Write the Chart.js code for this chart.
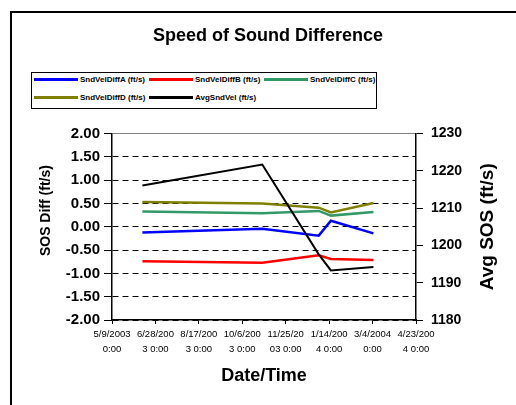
<!DOCTYPE html>
<html>
<head>
<meta charset="utf-8">
<title>Speed of Sound Difference</title>
<script src="https://cdn.jsdelivr.net/npm/chart.js@4.4.0/dist/chart.umd.min.js"></script>
<style>
  html, body { margin: 0; padding: 0; background: #fff; }
  #wrap { position: relative; width: 516px; height: 405px; }
  #legend {
    position: absolute; left: 31px; top: 72px; width: 344px; height: 35px;
    border: 1px solid #000; background: #fff;
    font: bold 8px 'Liberation Sans', Arial, sans-serif; color: #000;
  }
  #legend .item { position: absolute; height: 10px; display: flex; align-items: center; white-space: nowrap; }
  #legend .swatch { width: 44px; height: 3px; margin-right: 2px; }
</style>
</head>
<body>
<div id="wrap">
  <canvas id="chart" width="516" height="405"></canvas>
  <div id="legend"></div>
</div>
<script>
const FONT = "'Liberation Sans', Arial, sans-serif";

// sample times
const sampleDates = ['2003-06-13', '2003-10-29', '2004-01-02', '2004-01-16', '2004-03-05'];

// series (ft/s)
const diffA = [-0.12, -0.04, -0.19, 0.13, -0.14];
const diffB = [-0.74, -0.77, -0.61, -0.69, -0.71];
const diffC = [0.33, 0.29, 0.34, 0.24, 0.32];
const diffD = [0.53, 0.50, 0.41, 0.31, 0.51];
const avgSos = [1216.1, 1221.7, 1197.6, 1193.3, 1194.2];

// axis ticks
const xTickLabels = ['5/9/2003 0:00', '6/28/2003 0:00', '8/17/2003 0:00', '10/6/2003 0:00',
                     '11/25/2003 0:00', '1/14/2004 0:00', '3/4/2004 0:00', '4/23/2004 0:00'];
const xStartDate = '2003-05-09';
const xStepDays = 50;
const diffMin = -2, diffMax = 2, diffStep = 0.5;
const sosMin = 1180, sosMax = 1230, sosStep = 10;

const dayMs = 86400000;
const start = Date.parse(xStartDate);
const sampleDays = sampleDates.map(d => (Date.parse(d) - start) / dayMs);
const points = vals => vals.map((v, i) => ({ x: sampleDays[i], y: v }));

// outer chart frame
const framePlugin = {
    id: 'frame',
    afterDraw(chart) {
        const ctx = chart.ctx;
        ctx.save();
        ctx.strokeStyle = '#000';
        ctx.lineWidth = 2;
        ctx.strokeRect(11, 12, 600, 600);
        ctx.restore();
    }
};

// vertical axis titles, both reading bottom-to-top
const sideTitles = {
    id: 'sideTitles',
    afterDraw(chart) {
        const { ctx, chartArea } = chart;
        const draw = (text, size, x, y) => {
            ctx.save();
            ctx.translate(x, y);
            ctx.rotate(-Math.PI / 2);
            ctx.font = `bold ${size}px ${FONT}`;
            ctx.fillStyle = '#000';
            ctx.textAlign = 'center';
            ctx.textBaseline = 'middle';
            ctx.fillText(text, 0, 0);
            ctx.restore();
        };
        draw('SOS Diff (ft/s)', 14, chartArea.left - 66, chartArea.top + 77);
        draw('Avg SOS (ft/s)', 19, chartArea.right + 72, (chartArea.top + chartArea.bottom) / 2);
    }
};

const chart = new Chart(document.getElementById('chart'), {
    type: 'line',
    data: {
        datasets: [
            { label: 'SndVelDiffA (ft/s)', data: points(diffA), borderColor: '#0000ff', yAxisID: 'y', order: 2 },
            { label: 'SndVelDiffB (ft/s)', data: points(diffB), borderColor: '#ff0000', yAxisID: 'y', order: 3 },
            { label: 'SndVelDiffC (ft/s)', data: points(diffC), borderColor: '#339966', yAxisID: 'y', order: 4 },
            { label: 'SndVelDiffD (ft/s)', data: points(diffD), borderColor: '#808000', yAxisID: 'y', order: 1 },
            { label: 'AvgSndVel (ft/s)', data: points(avgSos), borderColor: '#000000', yAxisID: 'y2', order: 0, borderWidth: 2 }
        ]
    },
    options: {
        responsive: false,
        animation: false,
        layout: { padding: { left: 20, right: 0, top: 0, bottom: 0 } },
        elements: {
            line: { borderWidth: 2.5, tension: 0, fill: false },
            point: { radius: 0, hoverRadius: 0 }
        },
        plugins: {
            legend: { display: false },
            tooltip: { enabled: false },
            title: {
                display: true,
                text: 'Speed of Sound Difference',
                color: '#000',
                font: { family: FONT, size: 18, weight: 'bold' },
                padding: { top: 25, bottom: 87 }
            }
        },
        scales: {
            x: {
                type: 'linear',
                min: 0,
                max: xStepDays * (xTickLabels.length - 1),
                afterFit: s => { s.height = 85; },
                ticks: {
                    stepSize: xStepDays,
                    maxRotation: 0,
                    autoSkip: false,
                    padding: 3,
                    color: '#000',
                    font: { family: FONT, size: 9.5, lineHeight: '15px' },
                    callback: (v, i) => {
                        const s = xTickLabels[i] || '';
                        return [s.slice(0, 8), s.slice(8).trim()];
                    }
                },
                grid: { drawOnChartArea: false, tickLength: 4, tickColor: '#000', tickWidth: 1 },
                border: { color: '#000', width: 1.5 },
                title: {
                    display: true,
                    text: 'Date/Time',
                    color: '#000',
                    font: { family: FONT, size: 18, weight: 'bold' },
                    padding: { top: 0, bottom: 18 }
                }
            },
            y: {
                position: 'left',
                min: diffMin,
                max: diffMax,
                afterFit: s => { s.width = 92; },
                ticks: {
                    stepSize: diffStep,
                    padding: 4,
                    color: '#000',
                    font: { family: FONT, size: 15, weight: 'bold' },
                    callback: v => v.toFixed(2)
                },
                grid: {
                    color: c => (c.tick && c.tick.value === diffMax) ? '#808080' : '#000',
                    lineWidth: 1,
                    tickLength: 8,
                    tickColor: '#000'
                },
                border: {
                    color: '#000',
                    width: 1.5,
                    dash: c => (c.tick && c.tick.value === diffMax) ? [] : [6, 4]
                }
            },
            y2: {
                position: 'right',
                min: sosMin,
                max: sosMax,
                afterFit: s => { s.width = 100; },
                ticks: {
                    stepSize: sosStep,
                    padding: 8,
                    color: '#000',
                    font: { family: FONT, size: 14, weight: 'bold' },
                    callback: v => String(v)
                },
                grid: { drawOnChartArea: false, tickLength: 7, tickColor: '#000' },
                border: { color: '#000', width: 1.5 }
            }
        }
    },
    plugins: [framePlugin, sideTitles]
});

// legend box, laid out in three columns
const legendEl = document.getElementById('legend');
chart.data.datasets.forEach((ds, i) => {
    const item = document.createElement('div');
    item.className = 'item';
    item.style.left = (2 + (i % 3) * 115) + 'px';
    item.style.top = (i < 3 ? 1 : 19) + 'px';
    item.innerHTML = `<span class="swatch" style="background:${ds.borderColor}"></span><span>${ds.label}</span>`;
    legendEl.appendChild(item);
});
</script>
</body>
</html>
